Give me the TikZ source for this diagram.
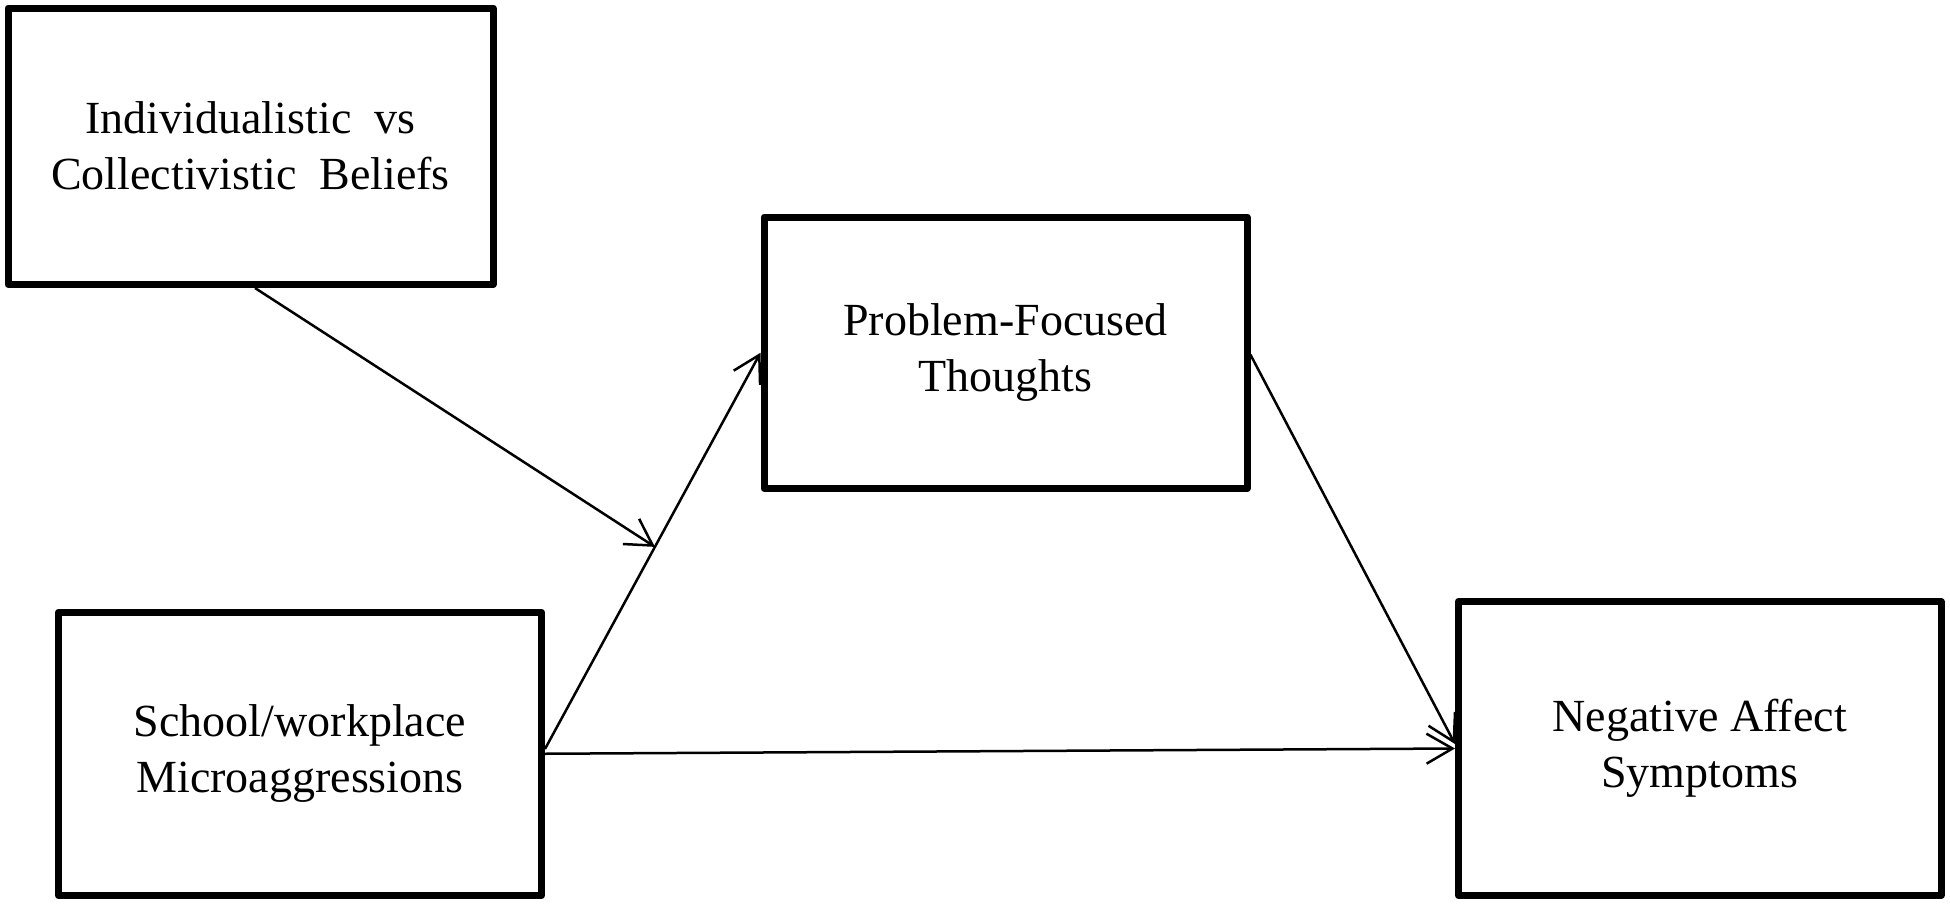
\documentclass[tikz,border=0pt]{standalone}
\usepackage{fontspec}
\setmainfont{Liberation Serif}
\usetikzlibrary{arrows.meta,calc}
\begin{document}
\begin{tikzpicture}[x=0.5pt,y=-0.5pt,
  box/.style={draw, line width=3.5pt, line join=round, inner sep=0pt, align=center,
    font=\fontsize{23}{28}\selectfont},
  link/.style={line width=1.25pt,
    -{Straight Barb[length=13pt,width=15pt,line width=1.25pt]}}]
\useasboundingbox (0,0) rectangle (1950,905);
\node[box, minimum width=242.5pt, minimum height=138.25pt] (ind) at (250.5,146.25)
  {Individualistic\ \ vs\\Collectivistic\ \ Beliefs};
\node[box, minimum width=241.5pt, minimum height=135.75pt] (pft) at (1005.5,352.75)
  {Problem-Focused\\Thoughts};
\node[box, minimum width=241.5pt, minimum height=141.75pt] (mic) at (300,753.75)
  {School/workplace\\Microaggressions};
\node[box, minimum width=241.25pt, minimum height=147pt] (neg) at (1699.75,748.5)
  {Negative Affect\\Symptoms};
\coordinate (bS) at ([yshift=2.4pt]mic.east);
\coordinate (aT) at ($(bS)!0.51!(pft.west)$);
\draw[link] (bS) -- (pft.west);
\draw[link] ([xshift=2.25pt]ind.south) -- (aT);
\draw[link] ([yshift=-1pt]pft.east) -- ([yshift=2.25pt]neg.west);
\draw[link] (mic.east) -- (neg.west);
\end{tikzpicture}
\end{document}
